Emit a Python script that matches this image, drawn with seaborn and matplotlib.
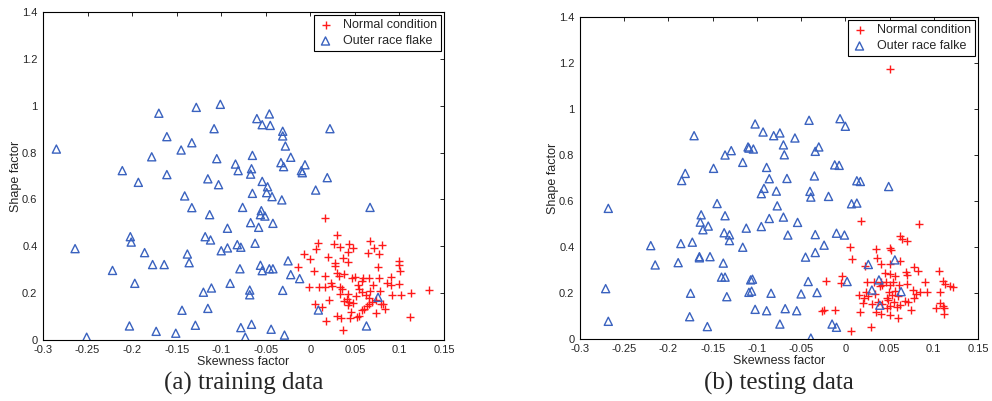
import matplotlib
matplotlib.use("Agg")
import matplotlib.pyplot as plt
import seaborn as sns
import pandas as pd


# training data, normal condition
train_normal_x = [0.017, 0.030, 0.009, 0.026, 0.033, 0.043, 0.048, 0.006, 0.042, 0.067,
                  0.071, 0.080, 0.065, 0.077, -0.007, 0.020, 0.000, 0.037, 0.042, 0.099,
                  0.100, 0.028, 0.076, 0.004, 0.101, 0.017, 0.030, 0.038, 0.032, 0.047,
                  0.059, 0.066, 0.077, 0.090, 0.091, 0.100, 0.058, 0.054, 0.055, 0.023,
                  0.024, -0.001, 0.010, 0.016, 0.035, 0.058, 0.067, 0.078, 0.033, 0.042,
                  0.092, 0.102, 0.113, 0.133, 0.051, 0.066, 0.041, 0.043, 0.048, 0.021,
                  0.069, 0.074, 0.079, 0.084, 0.005, 0.013, 0.058, 0.046, 0.074, 0.030,
                  0.034, 0.044, 0.055, 0.112, 0.018, 0.037, 0.042, 0.066, -0.014, 0.052,
                  0.060, 0.064, 0.038, 0.028, 0.033, 0.082, 0.050, 0.062, 0.070, 0.086]
train_normal_y = [0.522, 0.448, 0.415, 0.408, 0.396, 0.410, 0.391, 0.390, 0.377, 0.423,
                  0.391, 0.405, 0.370, 0.368, 0.368, 0.353, 0.346, 0.351, 0.332, 0.337,
                  0.320, 0.317, 0.313, 0.296, 0.294, 0.272, 0.286, 0.283, 0.272, 0.266,
                  0.263, 0.266, 0.266, 0.268, 0.235, 0.239, 0.252, 0.235, 0.218, 0.243,
                  0.229, 0.226, 0.226, 0.226, 0.218, 0.204, 0.209, 0.208, 0.196, 0.198,
                  0.192, 0.192, 0.199, 0.212, 0.187, 0.181, 0.175, 0.164, 0.159, 0.172,
                  0.161, 0.171, 0.155, 0.132, 0.152, 0.141, 0.129, 0.121, 0.114, 0.101,
                  0.095, 0.095, 0.101, 0.098, 0.081, 0.041, 0.149, 0.152, 0.310, 0.097,
                  0.134, 0.145, 0.165, 0.330, 0.225, 0.154, 0.270, 0.190, 0.235, 0.245]

# training data, outer race flake
train_fault_x = [-0.170, -0.128, -0.101, -0.046, -0.060, -0.054, -0.045, -0.108, -0.031, -0.031,
                 0.022, -0.161, -0.133, -0.145, -0.028, -0.178, -0.105, -0.065, -0.022, -0.084,
                 -0.033, -0.030, -0.006, -0.081, -0.066, -0.067, -0.010, -0.009, -0.211, -0.161,
                 -0.193, -0.115, -0.103, -0.054, -0.048, 0.019, 0.006, -0.049, -0.065, -0.043,
                 -0.032, -0.141, -0.133, -0.076, -0.113, -0.055, -0.056, -0.051, -0.067, -0.042,
                 -0.058, -0.093, -0.202, -0.201, -0.118, -0.112, -0.062, -0.082, -0.078, -0.093,
                 -0.100, -0.186, -0.138, -0.136, -0.177, -0.164, -0.056, -0.054, -0.046, -0.042,
                 -0.079, -0.025, -0.022, -0.012, -0.197, -0.090, -0.111, -0.120, -0.068, -0.068,
                 -0.031, -0.144, -0.115, 0.009, -0.203, -0.173, -0.151, -0.129, -0.078, -0.066,
                 -0.073, -0.044, -0.029, -0.285, -0.264, -0.251, -0.222, 0.067, 0.063, 0.076]
train_fault_y = [0.968, 0.993, 1.006, 0.965, 0.945, 0.919, 0.916, 0.902, 0.891, 0.871,
                 0.902, 0.868, 0.842, 0.811, 0.828, 0.782, 0.774, 0.788, 0.780, 0.751,
                 0.757, 0.740, 0.748, 0.723, 0.731, 0.708, 0.723, 0.714, 0.723, 0.706,
                 0.673, 0.688, 0.663, 0.677, 0.654, 0.693, 0.640, 0.629, 0.626, 0.612,
                 0.598, 0.615, 0.565, 0.566, 0.535, 0.552, 0.535, 0.529, 0.501, 0.498,
                 0.481, 0.477, 0.441, 0.418, 0.441, 0.427, 0.413, 0.407, 0.396, 0.393,
                 0.381, 0.373, 0.367, 0.330, 0.322, 0.322, 0.319, 0.296, 0.304, 0.304,
                 0.304, 0.338, 0.279, 0.262, 0.242, 0.242, 0.222, 0.204, 0.213, 0.193,
                 0.212, 0.127, 0.135, 0.128, 0.060, 0.037, 0.029, 0.063, 0.053, 0.067,
                 0.012, 0.046, 0.021, 0.815, 0.390, 0.012, 0.297, 0.566, 0.060, 0.182]

# testing data, normal condition
test_normal_x = [0.018, 0.083, 0.062, 0.064, 0.070, 0.005, 0.035, 0.050, 0.052, 0.008,
                 0.036, 0.022, 0.040, 0.050, 0.062, 0.045, 0.050, 0.056, 0.069, 0.070,
                 0.078, 0.082, 0.106, -0.004, -0.005, -0.022, 0.025, 0.032, 0.040, 0.046,
                 0.039, 0.042, 0.050, 0.054, 0.061, 0.070, 0.090, 0.110, 0.113, 0.118,
                 0.122, 0.015, 0.023, 0.021, 0.026, 0.033, 0.049, 0.053, 0.056, 0.060,
                 0.047, 0.077, 0.080, 0.084, 0.078, 0.092, 0.107, 0.020, 0.030, 0.037,
                 0.042, 0.048, 0.050, 0.055, 0.058, 0.062, 0.068, 0.071, 0.107, 0.110,
                 0.112, 0.103, 0.111, 0.035, 0.040, 0.050, 0.059, 0.074, 0.017, -0.026,
                 -0.024, -0.012, 0.006, 0.029, 0.047, 0.051]
test_normal_y = [0.514, 0.500, 0.450, 0.436, 0.427, 0.402, 0.392, 0.395, 0.388, 0.348,
                 0.354, 0.317, 0.325, 0.328, 0.340, 0.286, 0.282, 0.273, 0.290, 0.279,
                 0.311, 0.296, 0.296, 0.273, 0.244, 0.253, 0.247, 0.247, 0.247, 0.250,
                 0.232, 0.235, 0.235, 0.247, 0.235, 0.241, 0.247, 0.253, 0.238, 0.232,
                 0.226, 0.192, 0.203, 0.180, 0.189, 0.197, 0.206, 0.192, 0.209, 0.189,
                 0.180, 0.212, 0.197, 0.203, 0.177, 0.206, 0.203, 0.157, 0.151, 0.162,
                 0.154, 0.168, 0.145, 0.160, 0.139, 0.148, 0.165, 0.162, 0.155, 0.142,
                 0.134, 0.134, 0.110, 0.116, 0.110, 0.105, 0.093, 0.125, 0.119, 0.122,
                 0.128, 0.128, 0.035, 0.051, 0.136, 1.175]

# testing data, outer race flake
test_fault_x = [-0.171, -0.185, -0.181, -0.149, -0.136, -0.129, -0.116, -0.109, -0.268, -0.145,
                -0.163, -0.136, -0.164, -0.155, -0.161, -0.112, -0.137, -0.131, -0.131, -0.220,
                -0.186, -0.173, -0.116, -0.215, -0.189, -0.165, -0.165, -0.153, -0.138, -0.140,
                -0.136, -0.271, -0.175, -0.134, -0.109, -0.107, -0.176, -0.268, -0.156, -0.102,
                -0.093, -0.081, -0.074, -0.057, -0.041, -0.006, 0.000, -0.070, -0.110, -0.104,
                -0.069, -0.030, -0.034, -0.089, -0.012, -0.007, -0.086, -0.066, -0.035, 0.013,
                0.017, 0.049, -0.092, -0.095, -0.078, -0.040, -0.039, -0.019, 0.007, 0.013,
                -0.077, -0.086, -0.070, -0.054, -0.095, -0.065, -0.034, -0.010, -0.001, -0.024,
                -0.034, -0.045, 0.026, 0.056, -0.105, -0.042, 0.002, 0.038, -0.106, -0.084,
                -0.050, -0.032, 0.030, 0.063, 0.039, -0.102, -0.089, -0.068, -0.055, -0.074,
                -0.015, -0.010, -0.039]
test_fault_y = [0.884, 0.689, 0.720, 0.742, 0.800, 0.819, 0.768, 0.830, 0.568, 0.589,
                0.540, 0.536, 0.508, 0.491, 0.475, 0.482, 0.462, 0.453, 0.428, 0.406,
                0.415, 0.421, 0.399, 0.322, 0.332, 0.358, 0.353, 0.358, 0.330, 0.269,
                0.269, 0.219, 0.199, 0.184, 0.203, 0.257, 0.097, 0.077, 0.054, 0.935,
                0.900, 0.884, 0.896, 0.874, 0.951, 0.958, 0.925, 0.844, 0.835, 0.826,
                0.801, 0.835, 0.816, 0.746, 0.757, 0.755, 0.697, 0.698, 0.709, 0.688,
                0.685, 0.663, 0.655, 0.632, 0.643, 0.642, 0.617, 0.620, 0.588, 0.591,
                0.579, 0.524, 0.530, 0.507, 0.489, 0.452, 0.454, 0.460, 0.452, 0.408,
                0.376, 0.356, 0.324, 0.344, 0.260, 0.250, 0.250, 0.257, 0.208, 0.199,
                0.196, 0.202, 0.213, 0.206, 0.147, 0.129, 0.123, 0.132, 0.123, 0.065,
                0.065, 0.051, 0.004]

x_ticks = [-0.3, -0.25, -0.2, -0.15, -0.1, -0.05, 0, 0.05, 0.1, 0.15]
x_tick_labels = ["-0.3", "-0.25", "-0.2", "-0.15", "-0.1", "-0.05", "0", "0.05", "0.1", "0.15"]
y_ticks = [0, 0.2, 0.4, 0.6, 0.8, 1.0, 1.2, 1.4]
y_tick_labels = ["0", "0.2", "0.4", "0.6", "0.8", "1", "1.2", "1.4"]

red = "#ff1a1a"
blue = "#3a62bf"

sns.set_style("white")
plt.rcParams["font.family"] = ["Liberation Sans", "DejaVu Sans"]


def draw_panel(ax, nx, ny, fx, fy, fault_label, caption):

    normal = pd.DataFrame({"skew": nx, "shape": ny})
    fault = pd.DataFrame({"skew": fx, "shape": fy})

    sns.scatterplot(
        data=normal, x="skew", y="shape", ax=ax,
        marker="+", s=36, color=red, linewidth=1.0,
        label="Normal condition"
    )
    sns.scatterplot(
        data=fault, x="skew", y="shape", ax=ax,
        marker="^", s=34, facecolors="none", edgecolor=blue, linewidth=1.0,
        label=fault_label
    )

    ax.set_xlim(-0.3, 0.15)
    ax.set_ylim(0, 1.4)
    ax.set_xticks(x_ticks)
    ax.set_xticklabels(x_tick_labels)
    ax.set_yticks(y_ticks)
    ax.set_yticklabels(y_tick_labels)
    ax.tick_params(direction="in", length=3, width=0.7, top=True, right=True,
                   labelsize=8, labelcolor="#262626")
    ax.tick_params(axis="x", pad=3.5)
    ax.tick_params(axis="y", pad=4)
    for sp in ax.spines.values():
        sp.set_visible(True)
        sp.set_color("black")
        sp.set_linewidth(0.8)

    ax.set_xlabel("Skewness factor", fontsize=9, labelpad=1)
    ax.set_ylabel("Shape factor", fontsize=9, labelpad=0)

    leg = ax.legend(
        loc="upper right", fontsize=9, frameon=True, fancybox=False,
        framealpha=1, edgecolor="black", borderaxespad=0.25,
        handlelength=1.2, handletextpad=0.8, labelspacing=0.35,
        borderpad=0.3, scatterpoints=1
    )
    leg.get_frame().set_linewidth(0.8)

    pos = ax.get_position()
    ax.figure.text(
        (pos.x0 + pos.x1) / 2, 0.045, caption,
        ha="center", va="center", fontsize=18,
        family=["Liberation Serif", "DejaVu Serif"]
    )


fig = plt.figure(figsize=(9.92, 4.01), dpi=100)

ax1 = fig.add_axes([43 / 992, 61 / 401, 401 / 992, 328 / 401])
ax2 = fig.add_axes([580 / 992, 62 / 401, 398 / 992, 322 / 401])

draw_panel(ax1, train_normal_x, train_normal_y, train_fault_x, train_fault_y,
           "Outer race flake", "(a) training data")
draw_panel(ax2, test_normal_x, test_normal_y, test_fault_x, test_fault_y,
           "Outer race falke", "(b) testing data")

fig.savefig("out.png", dpi=100)
